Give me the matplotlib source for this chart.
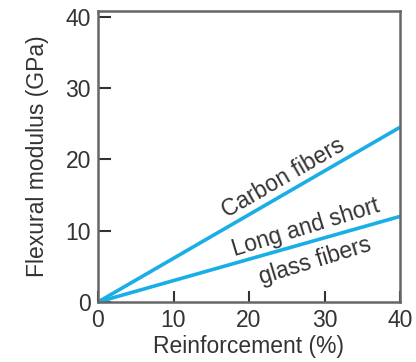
import matplotlib
matplotlib.use("Agg")
import matplotlib.pyplot as plt

reinforcement = [0, 40]
carbon = [0, 24.5]
glass = [0, 12.0]
xticks = [0, 10, 20, 30, 40]
yticks = [0, 10, 20, 30, 40]

plt.rcParams['font.family'] = ['Liberation Sans', 'DejaVu Sans']
fig = plt.figure(figsize=(4.16, 3.62), dpi=100)
ax = fig.add_axes([98/416, 1-302/362, 302/416, 291/362])
line_c = '#1aaee6'
ax.plot(reinforcement, carbon, color=line_c, lw=2.6, solid_capstyle='butt')
ax.plot(reinforcement, glass, color=line_c, lw=2.6, solid_capstyle='butt')
ax.set_xlim(0, 40)
ax.set_ylim(0, 40.8)
ax.set_xticks(xticks)
ax.set_yticks(yticks)
ax.tick_params(direction='in', length=8, width=1.5, color='#333333',
               labelsize=16.5, labelcolor='#333333', pad=5)
ax.tick_params(axis='y', length=9)
for s in ax.spines.values():
    s.set_color('#666666')
    s.set_linewidth(1.8)
ax.set_xlabel('Reinforcement (%)', fontsize=16.5, color='#333333', labelpad=2)
ax.set_ylabel('Flexural modulus (GPa)', fontsize=16.5, color='#333333', labelpad=12)

tc = '#333333'
fs = 16.5
ax.text(24.6, 17.4, 'Carbon fibers', rotation=30, fontsize=fs, color=tc,
        ha='center', va='center', rotation_mode='anchor')
ax.text(27.5, 10.4, 'Long and short', rotation=17, fontsize=fs, color=tc,
        ha='center', va='center', rotation_mode='anchor')
ax.text(28.7, 5.8, 'glass fibers', rotation=17, fontsize=fs, color=tc,
        ha='center', va='center', rotation_mode='anchor')

fig.savefig('out.png', dpi=100)
